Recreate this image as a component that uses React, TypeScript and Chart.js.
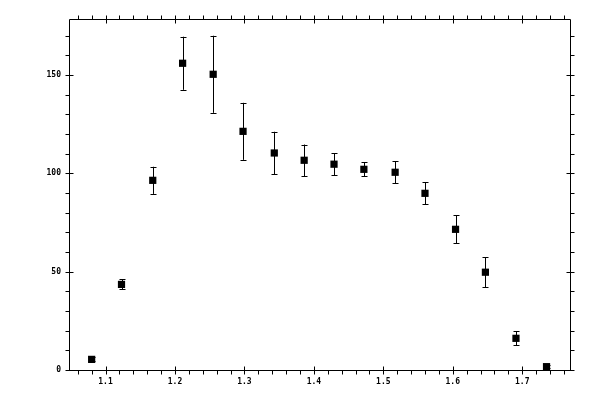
import React, { useEffect, useRef } from "react";
import { Chart, registerables } from "chart.js";

Chart.register(...registerables);

const xValues = [1.080, 1.123, 1.168, 1.211, 1.255, 1.298, 1.343, 1.386, 1.429, 1.472, 1.517, 1.560, 1.604, 1.647, 1.691, 1.735];
const yValues = [5.4, 43.5, 96.4, 155.9, 150.3, 121.3, 110.3, 106.6, 104.6, 102.0, 100.5, 89.8, 71.5, 49.7, 16.1, 1.7];
const yErrors = [1.0, 2.5, 6.9, 13.5, 19.6, 14.5, 10.8, 8.0, 5.5, 3.5, 5.6, 5.5, 7.1, 7.6, 3.6, 0.8];
const xTicks = [1.1, 1.2, 1.3, 1.4, 1.5, 1.6, 1.7];
const yTicks = [0, 50, 100, 150];
const xRange = [1.0474, 1.7688];
const yRange = [0, 178.4];
const xMinorStep = 0.02;
const yMinorStep = 10;

const framePlugin = {
  id: "framePlugin",
  afterDatasetsDraw(chart: any) {
    const ctx = chart.ctx;
    const xs = chart.scales.x;
    const ys = chart.scales.y;
    const { left, right, top, bottom } = chart.chartArea;
    const L = Math.round(left) + 0.5;
    const R = Math.round(right) + 0.5;
    const T = Math.round(top) + 0.5;
    const B = Math.round(bottom) + 0.5;
    ctx.save();
    ctx.strokeStyle = "#000";
    ctx.lineWidth = 1;

    // error bars
    const ds = chart.data.datasets[0].data;
    ctx.beginPath();
    ds.forEach((p: any, i: number) => {
      const e = yErrors[i];
      const px = Math.round(xs.getPixelForValue(p.x)) + 0.5;
      const y1 = ys.getPixelForValue(p.y + e);
      const y2 = ys.getPixelForValue(p.y - e);
      ctx.moveTo(px, y1);
      ctx.lineTo(px, y2);
      ctx.moveTo(px - 3, Math.round(y1) + 0.5);
      ctx.lineTo(px + 3, Math.round(y1) + 0.5);
      ctx.moveTo(px - 3, Math.round(y2) + 0.5);
      ctx.lineTo(px + 3, Math.round(y2) + 0.5);
    });
    ctx.stroke();

    // frame
    ctx.beginPath();
    ctx.rect(L, T, R - L, B - T);
    ctx.stroke();

    ctx.beginPath();
    // x ticks
    const kx0 = Math.ceil(xRange[0] / xMinorStep - 1e-9);
    const kx1 = Math.floor(xRange[1] / xMinorStep + 1e-9);
    for (let k = kx0; k <= kx1; k++) {
      const v = k * xMinorStep;
      const px = Math.round(xs.getPixelForValue(v)) + 0.5;
      const major = k % 5 === 0;
      if (major) {
        ctx.moveTo(px, B - 4); ctx.lineTo(px, B + 4);
        ctx.moveTo(px, T - 4); ctx.lineTo(px, T + 4);
      } else {
        ctx.moveTo(px, B); ctx.lineTo(px, B + 4);
        ctx.moveTo(px, T); ctx.lineTo(px, T - 4);
      }
    }
    // y ticks
    const ky0 = Math.ceil(yRange[0] / yMinorStep - 1e-9);
    const ky1 = Math.floor(yRange[1] / yMinorStep + 1e-9);
    for (let k = ky0; k <= ky1; k++) {
      const v = k * yMinorStep;
      const py = Math.round(ys.getPixelForValue(v)) + 0.5;
      const major = k % 5 === 0;
      if (major) {
        ctx.moveTo(L - 4, py); ctx.lineTo(L + 4, py);
        ctx.moveTo(R - 4, py); ctx.lineTo(R + 4, py);
      } else {
        ctx.moveTo(L, py); ctx.lineTo(L - 4, py);
        ctx.moveTo(R, py); ctx.lineTo(R + 4, py);
      }
    }
    ctx.stroke();
    ctx.restore();
  },
};

export default function App() {
  const ref = useRef<HTMLCanvasElement | null>(null);
  useEffect(() => {
    document.body.style.margin = "0";
    const canvas = ref.current;
    if (!canvas) return;
    const font = { family: "'DejaVu Sans Mono', monospace", size: 8, weight: "bold" as const };
    const chart = new Chart(canvas, {
      type: "scatter",
      data: {
        datasets: [
          {
            data: xValues.map((x, i) => ({ x, y: yValues[i] })),
            pointStyle: "rect",
            pointRadius: 5.1,
            pointHoverRadius: 5.1,
            pointBackgroundColor: "#000",
            pointBorderColor: "#000",
            pointBorderWidth: 0,
            showLine: false,
          },
        ],
      },
      options: {
        responsive: false,
        devicePixelRatio: 1,
        animation: false,
        events: [],
        layout: { padding: { top: 19, right: 30, left: 0, bottom: 0 } },
        plugins: { legend: { display: false }, tooltip: { enabled: false } },
        scales: {
          x: {
            type: "linear",
            min: xRange[0],
            max: xRange[1],
            grid: { display: false, drawTicks: false },
            border: { display: false },
            afterBuildTicks: (s: any) => {
              s.ticks = xTicks.map((v) => ({ value: v }));
            },
            afterFit: (s: any) => {
              s.height = 30;
            },
            ticks: {
              font,
              color: "#000",
              padding: 7,
              maxRotation: 0,
              autoSkip: false,
              callback: (v: any) => Number(v).toFixed(1),
            },
          },
          y: {
            type: "linear",
            min: yRange[0],
            max: yRange[1],
            grid: { display: false, drawTicks: false },
            border: { display: false },
            afterBuildTicks: (s: any) => {
              s.ticks = yTicks.map((v) => ({ value: v }));
            },
            afterFit: (s: any) => {
              s.width = 69;
            },
            ticks: {
              font,
              color: "#000",
              padding: 8,
              autoSkip: false,
              callback: (v: any) => String(v),
            },
          },
        },
      },
      plugins: [framePlugin],
    });
    return () => chart.destroy();
  }, []);
  return (
    <div style={{ width: 600, height: 400, background: "#fff" }}>
      <canvas ref={ref} width={600} height={400} style={{ display: "block" }} />
    </div>
  );
}
